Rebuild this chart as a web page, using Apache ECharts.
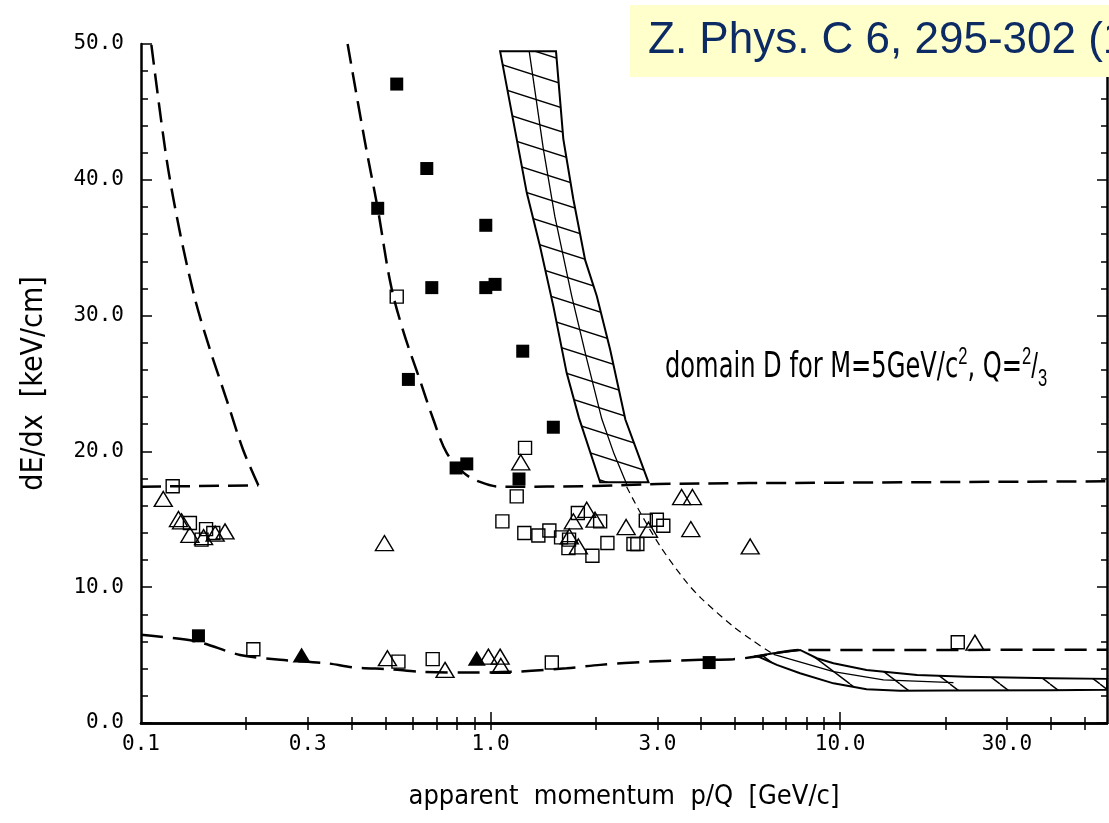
<!DOCTYPE html>
<html>
<head>
<meta charset="utf-8">
<script src="https://cdn.jsdelivr.net/npm/echarts@6/dist/echarts.min.js"></script>
<style>
  html, body { margin: 0; padding: 0; background: #fff; }
  #chart { width: 1109px; height: 823px; }
</style>
</head>
<body>
<div id="chart"></div>
<script>
// Axis ticks and labels (apparent momentum p/Q in GeV/c, log scale)
const xLabelValues = [0.1, 0.3, 1, 3, 10, 30];
const xMajorTicks = [1, 10];
const xMinorTicks = [0.2, 0.3, 0.4, 0.5, 0.6, 0.7, 0.8, 0.9, 2, 3, 4, 5, 6, 7, 8, 9, 20, 30, 40, 50];

// Measured tracks: [p/Q, dE/dx]
const filledSquares = [
  [0.539, 47.05], [0.657, 40.83], [0.4755, 37.9], [0.969, 36.65], [0.679, 32.06],
  [0.969, 32.06], [1.03, 32.3], [1.236, 27.38], [0.582, 25.3], [1.512, 21.78],
  [0.797, 18.78], [0.855, 19.08], [1.206, 17.97], [0.146, 6.42], [4.22, 4.45]
];
const openSquares = [
  [0.539, 31.4], [1.255, 20.26], [1.188, 16.69], [1.081, 14.85], [1.249, 13.99],
  [1.37, 13.81], [1.473, 14.18], [1.591, 13.67], [1.677, 13.5], [1.67, 12.88],
  [1.777, 15.46], [1.956, 12.32], [2.058, 14.85], [2.159, 13.25], [2.563, 13.18],
  [2.63, 13.18], [2.78, 14.9], [2.99, 14.97], [3.12, 14.53],
  [0.1232, 17.43], [0.138, 14.73], [0.1535, 14.28], [0.149, 13.5], [0.161, 13.99],
  [0.2096, 5.43], [0.545, 4.52], [0.683, 4.7], [1.497, 4.45], [21.7, 5.95]
];
const openTriangles = [
  [1.22, 19.2], [1.725, 14.85], [1.884, 15.7], [1.99, 14.97], [1.68, 13.74],
  [1.783, 13.0], [2.442, 14.43], [2.83, 14.23], [3.52, 16.64], [3.78, 16.64],
  [3.74, 14.28], [5.53, 13.0],
  [0.1158, 16.5], [0.128, 15.02], [0.1306, 14.85], [0.138, 13.86], [0.151, 13.69],
  [0.163, 13.94], [0.1739, 14.11], [0.497, 13.25],
  [0.507, 4.77], [0.741, 3.91], [0.9856, 4.89], [1.065, 4.89], [1.07, 4.2], [24.3, 5.92]
];
const filledTriangles = [[0.288, 5.01], [0.913, 4.77]];

// Boundary curves of the search domain
const leftFloor = [[0.1, 17.4], [0.2166, 17.5]];
const leftCurve = [
  [0.2166, 17.5], [0.196, 20.1], [0.1758, 23.8], [0.1575, 27.5], [0.1428, 31.2],
  [0.1293, 36.1], [0.1184, 41.5], [0.107, 50]
];
const middleCurve = [
  [0.39, 50], [0.4375, 42.75], [0.4755, 37.9], [0.518, 32.3], [0.562, 28.9],
  [0.625, 25.4], [0.686, 22.35], [0.749, 19.9], [0.84, 18.4], [0.933, 17.75],
  [1.065, 17.4], [2.0, 17.45], [3.0, 17.6], [10, 17.7], [58, 17.8]
];
const lowerCurve = [
  [0.1, 6.49], [0.1443, 6.0], [0.192, 5.01], [0.25, 4.65], [0.34, 4.4], [0.405, 4.1],
  [0.516, 3.96], [0.629, 3.78], [0.855, 3.71], [1.188, 3.78], [1.65, 4.03], [2.06, 4.28],
  [2.85, 4.52], [3.98, 4.65], [4.95, 4.7], [5.78, 4.89], [6.45, 5.13], [7.68, 5.38],
  [15, 5.38], [58, 5.4]
];
// Expected band for M = 5 GeV/c^2, Q = 2/3
const bandMidDashed = [
  [2.45, 17.4], [2.68, 15.5], [3.06, 13.0], [3.6, 10.5], [4.0, 9.2], [4.95, 7.1],
  [5.6, 6.1], [6.45, 5.05]
];
const upperBand = [
  [1.065, 49.46], [1.539, 49.46], [1.615, 43.0], [1.725, 38.57], [1.864, 34.1],
  [2.013, 31.44], [2.198, 27.5], [2.43, 22.35], [2.83, 17.72],
  [2.058, 17.72], [1.79, 22.47], [1.65, 25.8], [1.512, 30.7], [1.385, 35.1],
  [1.269, 39.06], [1.188, 43.0]
];
const upperBandMid = [
  [1.29, 49.46], [1.416, 42.26], [1.527, 37.3], [1.707, 31.44], [1.876, 27.0],
  [2.08, 22.4], [2.257, 19.8], [2.45, 17.6]
];
const lowerBand = [
  [5.78, 4.94], [6.45, 5.13], [7.68, 5.38], [8.58, 4.77], [9.57, 4.4], [11.9, 3.91],
  [16.6, 3.54], [23.0, 3.41], [40, 3.3], [58, 3.25],
  [58, 2.45], [40, 2.42], [20, 2.4], [14.85, 2.38], [11.9, 2.48], [9.57, 2.92],
  [7.68, 3.66], [6.59, 4.28]
];
const lowerBandMid = [[6.45, 5.05], [9.57, 3.78], [13.3, 3.17], [21.1, 2.97]];

// Hatch pattern tile: one diagonal line per tile, continuous when repeated
function hatch(w, h, lw) {
  const c = document.createElement('canvas');
  c.width = w; c.height = h;
  const g = c.getContext('2d');
  g.strokeStyle = '#000';
  g.lineWidth = lw;
  g.beginPath();
  for (const dy of [-h, 0, h]) { g.moveTo(0, dy); g.lineTo(w, dy + h); }
  g.stroke();
  return { image: c, repeat: 'repeat' };
}

function curve(data, width, dash, smooth) {
  return {
    type: 'line', data, symbol: 'none', silent: true, z: 2,
    smooth: smooth || 0, clip: true,
    lineStyle: { color: '#000', width, type: dash }
  };
}

function band(points, fill) {
  return {
    type: 'custom', coordinateSystem: 'cartesian2d', data: points, silent: true, z: 3,
    renderItem(params, api) {
      if (params.dataIndex !== 0) return null;
      return {
        type: 'polygon',
        shape: { points: points.map(p => api.coord(p)) },
        style: { fill, stroke: '#000', lineWidth: 2 }
      };
    }
  };
}

function markers(data, symbol, size, filled) {
  return {
    type: 'scatter', data, symbol, symbolSize: size, z: 5, silent: true,
    itemStyle: {
      opacity: 1,
      color: filled ? '#000' : 'rgba(0,0,0,0)',
      borderColor: '#000', borderWidth: filled ? 0 : 1.4
    }
  };
}

const mono = "'DejaVu Sans Mono', monospace";
const narrow = "'Liberation Sans Narrow', 'DejaVu Sans Condensed', 'DejaVu Sans Mono', sans-serif";

const chart = echarts.init(document.getElementById('chart'), null, { renderer: 'canvas' });

chart.setOption({
  animation: false,
  backgroundColor: '#fff',
  title: {
    text: 'Z. Phys. C 6, 295-302 (1980)',
    left: 630, top: 5,
    backgroundColor: '#FFFFCC',
    padding: [14, 18, 14, 18],
    textStyle: {
      fontFamily: "'Liberation Sans', Arial, sans-serif",
      fontSize: 44, lineHeight: 44, fontWeight: 'normal', color: '#0c2a63'
    }
  },
  grid: { left: 141, right: 2, top: 44, bottom: 100 },
  xAxis: [
    {
      type: 'log', logBase: 10, min: 0.1, max: 58, position: 'bottom',
      name: 'apparent  momentum  p/Q  [GeV/c]',
      nameLocation: 'middle', nameGap: 60,
      nameTextStyle: { fontFamily: narrow, fontSize: 27, color: '#000' },
      axisLine: { lineStyle: { color: '#000', width: 2.5 } },
      axisTick: { inside: true, length: 11, customValues: xMajorTicks, lineStyle: { color: '#000', width: 1.5 } },
      axisLabel: {
        customValues: xLabelValues, margin: 11,
        fontFamily: mono, fontSize: 21, color: '#000',
        formatter: v => Number(v).toFixed(1)
      },
      splitLine: { show: false }
    },
    {
      type: 'log', logBase: 10, min: 0.1, max: 58, position: 'top',
      axisLine: { lineStyle: { color: '#000', width: 2.5 } },
      axisTick: { inside: true, length: 7, customValues: xMinorTicks.concat(xMajorTicks), lineStyle: { color: '#000', width: 1.5 } },
      axisLabel: { show: false },
      splitLine: { show: false }
    },
    {
      type: 'log', logBase: 10, min: 0.1, max: 58, position: 'bottom',
      axisLine: { show: false },
      axisTick: { inside: true, length: 6, customValues: xMinorTicks, lineStyle: { color: '#000', width: 1.5 } },
      axisLabel: { show: false },
      splitLine: { show: false }
    }
  ],
  yAxis: [
    {
      type: 'value', min: 0, max: 50, interval: 10, position: 'left',
      name: 'dE/dx  [keV/cm]',
      nameLocation: 'middle', nameGap: 92,
      nameTextStyle: { fontFamily: narrow, fontSize: 30, color: '#000' },
      axisLine: { show: true, lineStyle: { color: '#000', width: 2.5 } },
      axisTick: { show: true, inside: true, length: 11, lineStyle: { color: '#000', width: 1.5 } },
      minorTick: { show: true, splitNumber: 5, length: 7, lineStyle: { color: '#000', width: 1.5 } },
      axisLabel: { margin: 17, fontFamily: mono, fontSize: 21, color: '#000', formatter: v => v.toFixed(1) },
      splitLine: { show: false }
    },
    {
      type: 'value', min: 0, max: 50, interval: 10, position: 'right',
      axisLine: { show: true, lineStyle: { color: '#000', width: 2.5 } },
      axisTick: { show: true, inside: true, length: 10, lineStyle: { color: '#000', width: 1.5 } },
      minorTick: { show: true, splitNumber: 5, length: 6, lineStyle: { color: '#000', width: 1.5 } },
      axisLabel: { show: false },
      splitLine: { show: false }
    }
  ],
  graphic: [
    {
      type: 'text', x: 665, y: 368, scaleX: 0.69, silent: true,
      style: {
        text: 'domain D for M=5GeV/c{sup|2}, Q={sup|2}{sl|/}{sub|3}',
        fontFamily: "'DejaVu Sans', sans-serif", fontSize: 35, lineHeight: 46,
        fill: '#000', verticalAlign: 'middle', align: 'left',
        rich: {
          sup: { fontSize: 24, verticalAlign: 'top', lineHeight: 46 },
          sl: { fontSize: 35, lineHeight: 46 },
          sub: { fontSize: 24, verticalAlign: 'bottom', lineHeight: 46 }
        }
      }
    }
  ],
  series: [
    band(upperBand, hatch(75, 24, 1.4)),
    band(lowerBand, hatch(50, 38, 1.4)),
    curve(upperBandMid, 1.3, 'solid'),
    curve(lowerBandMid, 1.3, 'solid'),
    curve(bandMidDashed, 1.2, [7, 5], 0.3),
    curve(leftFloor, 2.5, [20, 9]),
    curve(leftCurve, 2.5, [20, 9], 0.3),
    curve(middleCurve, 2.5, [20, 9], 0.35),
    curve(lowerCurve, 2.5, [22, 10], 0.3),
    markers(filledSquares, 'rect', 13, true),
    markers(openSquares, 'rect', 13, false),
    markers(openTriangles, 'triangle', [18, 15], false),
    markers(filledTriangles, 'triangle', [18, 15], true)
  ]
});
</script>
</body>
</html>
